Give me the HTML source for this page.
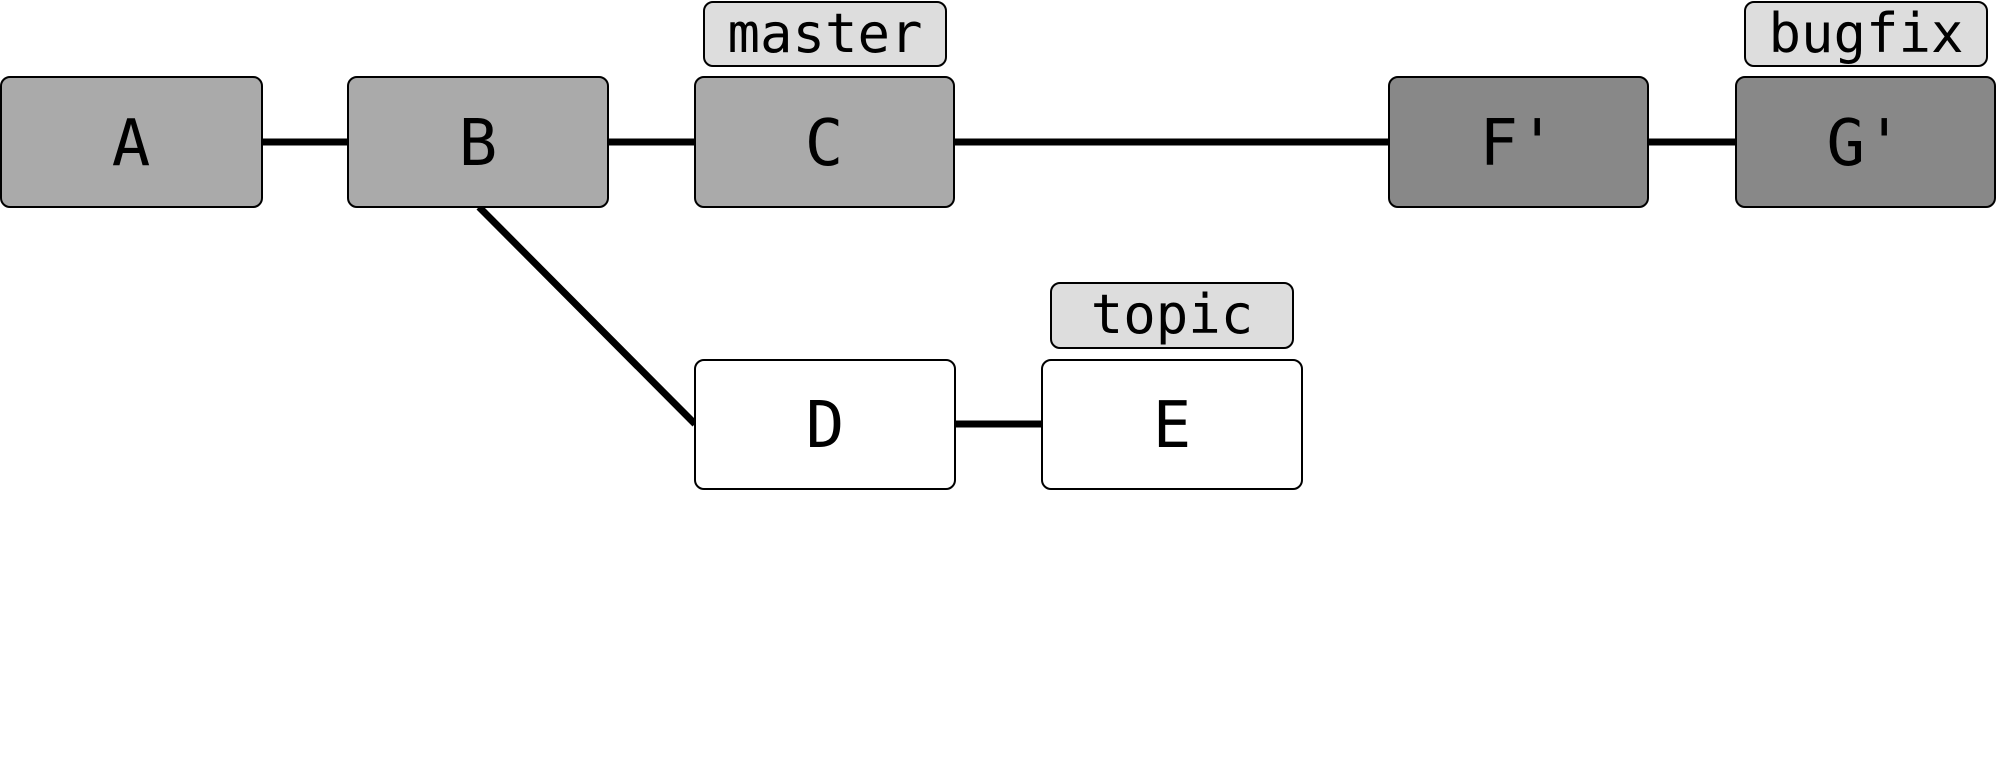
<!DOCTYPE html>
<html><head><style>body{margin:0;background:#fff}</style></head><body>
<svg width="2000" height="773" xmlns="http://www.w3.org/2000/svg" font-family="DejaVu Sans Mono, Liberation Mono, monospace">
<g stroke="#000" stroke-width="7">
<line x1="262" y1="142" x2="1736" y2="142"/>
<line x1="955" y1="424" x2="1042" y2="424"/>
<line x1="479" y1="207" x2="695" y2="424"/>
</g>
<g stroke="#000" stroke-width="2">
<rect x="1" y="77" width="261" height="130" rx="9" fill="#aaa"/>
<rect x="348" y="77" width="260" height="130" rx="9" fill="#aaa"/>
<rect x="695" y="77" width="259" height="130" rx="9" fill="#aaa"/>
<rect x="1389" y="77" width="259" height="130" rx="9" fill="#888"/>
<rect x="1736" y="77" width="259" height="130" rx="9" fill="#888"/>
<rect x="695" y="360" width="260" height="129" rx="9" fill="#fff"/>
<rect x="1042" y="360" width="260" height="129" rx="9" fill="#fff"/>
<rect x="704" y="2" width="242" height="64" rx="9" fill="#ddd"/>
<rect x="1745" y="2" width="242" height="64" rx="9" fill="#ddd"/>
<rect x="1051" y="283" width="242" height="65" rx="9" fill="#ddd"/>
</g>
<g font-size="64" text-anchor="middle">
<text x="131" y="165">A</text>
<text x="478" y="165">B</text>
<text x="824" y="165">C</text>
<text x="1518" y="165">F'</text>
<text x="1865" y="165">G'</text>
<text x="825" y="447">D</text>
<text x="1172" y="447">E</text>
</g>
<g font-size="54" text-anchor="middle">
<text x="825" y="52">master</text>
<text x="1866" y="52">bugfix</text>
<text x="1172" y="333">topic</text>
</g>
</svg>
</body></html>
